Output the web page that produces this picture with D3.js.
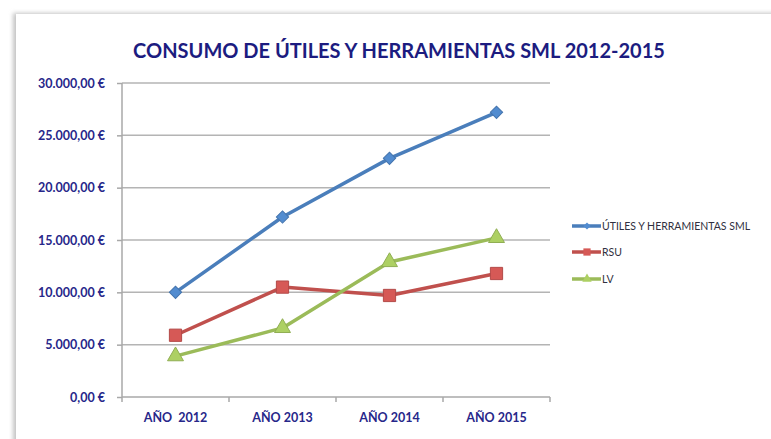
<!DOCTYPE html>
<head>
	<meta charset="utf-8">
	<title>Consumo de útiles y herramientas SML</title>
	<script src="https://d3js.org/d3.v7.min.js"></script>
	<style>
		body { margin: 0; background: #ffffff; }
		.grid line { stroke: #b4b4b4; stroke-width: 1.5px; }
		.axis path, .axis line { stroke: #a8a8a8; stroke-width: 1.5px; }
		.axis text { fill: #27278a; font-family: Lato, sans-serif; font-weight: bold; font-size: 12.5px; }
	</style>
</head>
<body>
	<div id="chart"></div>
	<script>
		var width = 771,
			height = 439;

		// datos
		var years = ["AÑO  2012", "AÑO 2013", "AÑO 2014", "AÑO 2015"];
		var seriesNames = ["ÚTILES Y HERRAMIENTAS SML", "RSU", "LV"];
		var utiles = [10000, 17200, 22800, 27200];
		var rsu = [5900, 10500, 9700, 11800];
		var lv = [3900, 6600, 12900, 15200];
		var yTicks = [0, 5000, 10000, 15000, 20000, 25000, 30000];

		var colors = ["#4a7ebb", "#c0504d", "#9bbb59"];
		var shapes = ["rombo", "cuadrado", "triangulo"];

		var series = [utiles, rsu, lv].map(function(v, i) {
			return { name: seriesNames[i], values: v, color: colors[i], shape: shapes[i] };
		});

		function marcador(shape, k) {
			if (shape === "rombo") return d3.symbol().type(d3.symbolSquare).size(75 * k)();
			if (shape === "cuadrado") return d3.symbol().type(d3.symbolSquare).size(150 * k)();
			return d3.symbol().type(d3.symbolTriangle).size(110 * k)();
		}

		var margin = { left: 122, right: 221, top: 83, bottom: 42 };

		var svg = d3.select("#chart")
			.append("svg")
			.attr("width", width)
			.attr("height", height);

		var defs = svg.append("defs");
		var blur = defs.append("filter").attr("id", "sombra")
			.attr("x", "-50%").attr("y", "-50%").attr("width", "200%").attr("height", "200%");
		blur.append("feGaussianBlur").attr("stdDeviation", 2);

		// marco con sombra
		svg.append("rect")
			.attr("x", 13).attr("y", 13)
			.attr("width", width).attr("height", height)
			.attr("fill", "#c4c4c4")
			.attr("filter", "url(#sombra)");
		svg.append("rect")
			.attr("x", 16).attr("y", 14)
			.attr("width", width).attr("height", height)
			.attr("fill", "#ffffff");

		var x = d3.scaleBand()
			.domain(years)
			.range([margin.left, width - margin.right]);

		var y = d3.scaleLinear()
			.domain([0, 30000])
			.range([height - margin.bottom, margin.top]);

		// lineas de fondo
		svg.append("g")
			.attr("class", "grid")
			.selectAll("line")
			.data(yTicks.slice(1))
			.enter().append("line")
			.attr("x1", margin.left)
			.attr("x2", width - margin.right)
			.attr("y1", function(d) { return y(d); })
			.attr("y2", function(d) { return y(d); });

		var fmt = function(d) {
			var s = d3.format(",.2f")(d);
			return s.replace(/,/g, "#").replace(/\./g, ",").replace(/#/g, ".") + " €";
		};

		svg.append("g")
			.attr("class", "axis")
			.attr("transform", "translate(" + margin.left + ",0)")
			.call(d3.axisLeft(y).tickValues(yTicks).tickFormat(fmt).tickSize(5).tickPadding(12))
			.call(function(g) { g.select(".domain").attr("d", "M0," + y(30000) + "V" + y(0)); });

		var xAxis = svg.append("g")
			.attr("class", "axis")
			.attr("transform", "translate(0," + y(0) + ")")
			.call(d3.axisBottom(x).tickSize(0).tickPadding(14));
		xAxis.select(".domain").attr("d", "M" + margin.left + ",0H" + (width - margin.right));
		xAxis.selectAll(".tick text").attr("dy", "0.9em").style("white-space", "pre");
		xAxis.selectAll(".sep")
			.data(years.concat(["fin"]))
			.enter().append("line")
			.attr("class", "sep")
			.attr("x1", function(d, i) { return margin.left + i * x.bandwidth(); })
			.attr("x2", function(d, i) { return margin.left + i * x.bandwidth(); })
			.attr("y1", 0).attr("y2", 5);

		// titulo
		svg.append("text")
			.attr("x", 399)
			.attr("y", 58)
			.attr("text-anchor", "middle")
			.attr("font-family", "Lato, sans-serif")
			.attr("font-weight", "bold")
			.attr("font-size", 20)
			.attr("fill", "#1c1c80")
			.text("CONSUMO DE ÚTILES Y HERRAMIENTAS SML 2012-2015");

		var line = d3.line()
			.x(function(d, i) { return x(years[i]) + x.bandwidth() / 2; })
			.y(function(d) { return y(d); });

		var sg = svg.append("g").selectAll("g")
			.data(series)
			.enter().append("g");

		sg.append("path")
			.attr("d", function(d) { return line(d.values); })
			.attr("fill", "none")
			.attr("stroke", function(d) { return d.color; })
			.attr("stroke-width", 3.5)
			.attr("stroke-linejoin", "round");

		sg.each(function(s) {
			d3.select(this).selectAll(".punto")
				.data(s.values)
				.enter().append("path")
				.attr("class", "punto")
				.attr("transform", function(d, i) {
					var t = "translate(" + (x(years[i]) + x.bandwidth() / 2) + "," + y(d) + ")";
					return s.shape === "rombo" ? t + " rotate(45)" : t;
				})
				.attr("d", marcador(s.shape, 1))
				.attr("fill", d3.color(s.color).brighter(0.3))
				.attr("stroke", d3.color(s.color).darker(0.2))
				.attr("stroke-width", 1);
		});

		// leyenda
		var legend = svg.append("g").selectAll("g")
			.data(series)
			.enter().append("g")
			.attr("transform", function(d, i) { return "translate(572," + [226, 252, 279][i] + ")"; });

		legend.append("line")
			.attr("x1", 0).attr("x2", 29)
			.attr("stroke", function(d) { return d.color; })
			.attr("stroke-width", 3.5);
		legend.append("path")
			.attr("transform", function(d) { return d.shape === "rombo" ? "translate(15,0) rotate(45)" : "translate(15,0)"; })
			.attr("d", function(d) { return marcador(d.shape, 0.35); })
			.attr("fill", function(d) { return d3.color(d.color).brighter(0.3); });
		legend.append("text")
			.attr("x", 30)
			.attr("dy", "0.35em")
			.attr("font-family", "Lato, sans-serif")
			.attr("font-size", 10.5)
			.attr("fill", "#303040")
			.text(function(d) { return d.name; });
	</script>
</body>
